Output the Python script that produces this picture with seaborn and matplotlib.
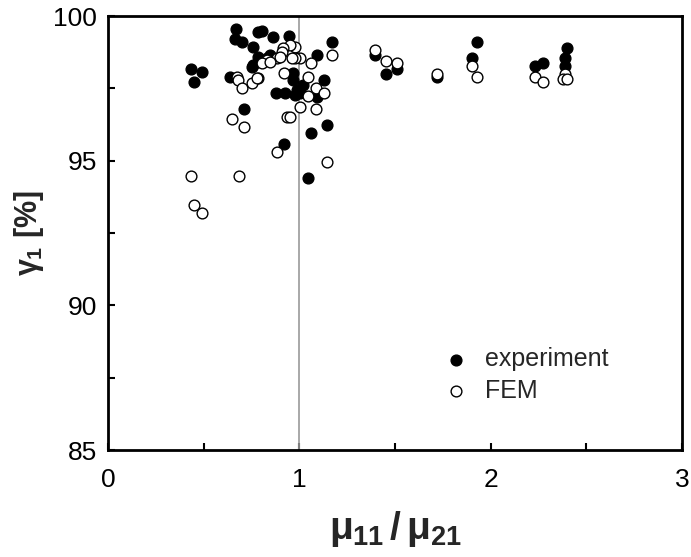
import matplotlib
matplotlib.use("Agg")
import matplotlib.pyplot as plt
import seaborn as sns
import pandas as pd
from matplotlib.ticker import MultipleLocator

exp_x = [0.669, 0.784, 0.864, 0.946, 0.664, 0.699, 0.756, 1.173, 1.091, 0.432,
         0.490, 0.450, 0.638, 0.760, 0.786, 0.847, 0.877, 0.925, 0.969, 0.986,
         1.004, 1.091, 1.131, 0.713, 1.143, 1.061, 0.922, 1.047, 1.396, 1.453,
         1.509, 1.718, 1.927, 1.901, 2.232, 2.276, 2.401, 2.389, 2.389, 0.969,
         1.020, 0.978, 0.803, 0.830, 0.751]
exp_y = [99.55, 99.45, 99.28, 99.31, 99.19, 99.11, 98.94, 99.09, 98.65, 98.16,
         98.07, 97.73, 97.90, 98.31, 98.59, 98.65, 97.33, 97.33, 97.79, 97.44,
         97.33, 97.21, 97.79, 96.79, 96.22, 95.94, 95.58, 94.39, 98.65, 97.98,
         98.16, 97.90, 99.09, 98.54, 98.27, 98.37, 98.91, 98.54, 98.27, 98.02,
         97.61, 97.27, 99.48, 98.54, 98.25]

fem_x = [0.978, 0.951, 0.916, 0.908, 1.004, 0.978, 0.960, 0.882, 0.830, 0.803,
         0.786, 0.751, 0.673, 0.681, 0.699, 0.922, 1.060, 1.047, 1.173, 1.087,
         1.131, 1.047, 1.004, 1.087, 0.647, 0.713, 0.937, 0.951, 0.882, 1.143,
         0.434, 0.686, 0.451, 0.490, 1.396, 1.453, 1.509, 1.718, 1.901, 1.927,
         2.232, 2.276, 2.389, 2.380, 2.400, 0.900, 0.847, 0.777]
fem_y = [98.94, 99.00, 98.88, 98.77, 98.54, 98.54, 98.54, 98.54, 98.48, 98.37,
         97.85, 97.67, 97.90, 97.79, 97.52, 98.02, 98.37, 97.90, 98.65, 97.52,
         97.35, 97.23, 96.87, 96.79, 96.43, 96.15, 96.50, 96.52, 95.31, 94.94,
         94.48, 94.48, 93.47, 93.20, 98.82, 98.44, 98.36, 97.99, 98.27, 97.90,
         97.90, 97.73, 98.00, 97.81, 97.81, 98.59, 98.42, 97.85]

df = pd.DataFrame({
    "x": exp_x + fem_x,
    "y": exp_y + fem_y,
    "series": ["experiment"] * len(exp_x) + ["FEM"] * len(fem_x),
})

sns.set_style("white")
plt.rcParams["font.family"] = ["Liberation Sans", "DejaVu Sans"]
plt.rcParams["mathtext.fontset"] = "custom"
plt.rcParams["mathtext.rm"] = "Liberation Sans:bold"
plt.rcParams["mathtext.it"] = "Liberation Sans:bold"
plt.rcParams["mathtext.bf"] = "Liberation Sans:bold"

fig = plt.figure(figsize=(6.91, 5.57), dpi=100)
ax = fig.add_axes([108 / 691, 1 - 450 / 557, (682 - 108) / 691, (450 - 16) / 557])

ax.axvline(1.0, color="#999999", lw=1.2, zorder=1)

sns.scatterplot(data=df[df.series == "experiment"], x="x", y="y", ax=ax,
                color="black", edgecolor="black", s=60, linewidth=1,
                label="experiment", zorder=3)
sns.scatterplot(data=df[df.series == "FEM"], x="x", y="y", ax=ax,
                color="white", edgecolor="black", s=60, linewidth=1,
                label="FEM", zorder=4)

ax.set_xlim(0, 3)
ax.set_ylim(85, 100)
ax.xaxis.set_major_locator(MultipleLocator(1))
ax.xaxis.set_minor_locator(MultipleLocator(0.5))
ax.yaxis.set_major_locator(MultipleLocator(5))
ax.yaxis.set_minor_locator(MultipleLocator(2.5))
ax.tick_params(which="both", direction="in", width=1.5, bottom=True, left=True,
               top=False, right=False, labelsize=19, colors="black", length=5)
ax.tick_params(axis="y", pad=8)
ax.tick_params(axis="x", pad=13)
for sp in ax.spines.values():
    sp.set_linewidth(2)
    sp.set_color("black")

ax.set_xlabel(r"$\mu_{11}\,/\,\mu_{21}$", fontsize=28, fontweight="bold", labelpad=12)
ax.set_ylabel(r"$\gamma_{1}$ [%]", fontsize=22, fontweight="bold", labelpad=5)

leg = ax.legend(loc="upper left", bbox_to_anchor=(0.545, 0.26), frameon=False,
                fontsize=18, handletextpad=0.15, markerscale=1.0, labelspacing=0.3,
                borderaxespad=0)

fig.savefig("out.png", dpi=100)
